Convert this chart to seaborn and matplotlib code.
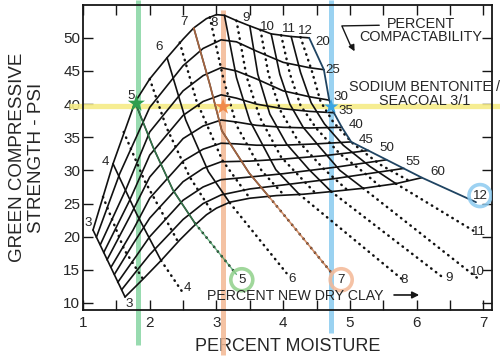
import matplotlib
matplotlib.use("Agg")
import matplotlib.pyplot as plt
from matplotlib.ticker import MultipleLocator
import numpy as np
import pandas as pd
import seaborn as sns

# ---------------- data ----------------
# compactability curves (top envelope = 20 ... bottom boundary)
comp_x = [
    [1.15, 1.45, 1.78, 2.0, 2.26, 2.5, 2.66, 2.85, 3.0, 3.12, 3.3, 3.5, 3.82, 4.12, 4.39],
    [1.20, 1.55, 2.0, 2.5, 2.8, 3.07, 3.3, 3.6, 4.0, 4.39, 4.61],
    [1.26, 1.65, 2.0, 2.5, 2.8, 3.07, 3.3, 3.6, 4.0, 4.4, 4.69],
    [1.31, 1.7, 2.0, 2.5, 2.8, 3.07, 3.3, 3.6, 4.0, 4.4, 4.76],
    [1.36, 1.7, 2.0, 2.5, 2.8, 3.07, 3.3, 3.6, 4.0, 4.4, 4.88],
    [1.42, 1.75, 2.0, 2.5, 2.8, 3.07, 3.3, 3.6, 4.0, 4.5, 5.02],
    [1.47, 1.75, 2.0, 2.5, 2.8, 3.07, 3.5, 4.0, 4.6, 5.28],
    [1.52, 1.8, 2.0, 2.5, 2.8, 3.07, 3.5, 4.0, 4.8, 5.55],
    [1.58, 1.8, 2.0, 2.5, 2.8, 3.07, 3.5, 4.0, 4.8, 5.81],
    [1.63, 1.9, 2.17, 2.45, 2.65, 2.85, 3.0, 3.2, 3.5, 3.9, 4.3, 4.72, 5.2, 5.69, 6.08],
]
comp_y = [
    [21.0, 31.0, 40.3, 43.8, 47.0, 49.8, 51.5, 52.9, 53.5, 53.4, 52.6, 51.8, 50.6, 50.2, 50.0],
    [19.9, 29.5, 39.5, 45.8, 48.4, 49.7, 49.4, 48.0, 46.3, 45.5, 45.2],
    [18.8, 27.3, 35.8, 42.0, 44.3, 45.5, 45.0, 43.8, 42.0, 41.1, 40.6],
    [17.6, 25.5, 32.3, 38.3, 40.4, 41.4, 40.9, 40.0, 39.3, 38.9, 38.7],
    [16.5, 23.0, 29.0, 34.8, 36.7, 37.6, 37.3, 36.8, 36.5, 36.4, 36.5],
    [15.4, 21.0, 25.8, 31.4, 33.2, 34.1, 34.0, 33.8, 33.8, 34.0, 34.3],
    [14.3, 18.9, 22.8, 28.3, 30.3, 31.3, 31.4, 31.7, 32.2, 33.0],
    [13.1, 17.1, 20.0, 25.5, 27.5, 28.6, 29.0, 29.5, 30.5, 31.6],
    [12.0, 14.8, 17.3, 22.6, 25.0, 26.3, 27.2, 27.8, 28.8, 30.3],
    [10.9, 13.6, 16.4, 19.5, 21.5, 23.3, 24.3, 25.2, 25.8, 26.2, 26.4, 26.8, 27.3, 28.0, 28.9],
]

# percent new dry clay lines, whole values 3..11 (solid inside the mesh)
clay_x = [
    [1.15, 1.63],
    [1.45, 1.8, 2.17],
    [1.78, 2.05, 2.35, 2.68],
    [2.26, 2.54, 2.88, 3.2],
    [2.66, 2.9, 3.08, 3.49, 3.79],
    [3.12, 3.3, 3.5, 3.89, 4.24],
    [3.5, 3.62, 3.8, 4.05, 4.39, 4.72],
    [3.82, 3.95, 4.1, 4.3, 4.55, 4.85, 5.2],
    [4.12, 4.26, 4.42, 4.62, 4.9, 5.3, 5.69],
]
clay_y = [
    [21.0, 10.9],
    [31.0, 23.5, 16.4],
    [40.3, 33.5, 27.0, 22.0],
    [47.0, 37.6, 29.8, 25.1],
    [51.5, 43.0, 36.0, 29.6, 26.0],
    [53.4, 44.0, 37.5, 30.1, 26.4],
    [51.8, 44.5, 38.5, 34.0, 30.1, 26.8],
    [50.6, 44.5, 40.0, 36.5, 33.5, 30.0, 27.3],
    [50.2, 44.8, 40.2, 37.0, 33.8, 30.6, 28.0],
]
# clay 12 = right envelope (runs on to the circled 12)
clay12_x = [4.39, 4.61, 4.69, 4.76, 4.88, 5.02, 5.55, 6.08, 6.89]
clay12_y = [50.0, 45.2, 40.6, 38.7, 36.5, 34.3, 31.6, 28.9, 25.2]

# half values 3.5 .. 11.5 (dotted inside the mesh)
half_x = [
    [1.30, 1.62, 1.90],
    [1.61, 1.92, 2.42],
    [2.0, 2.25, 2.6, 2.93],
    [2.45, 2.7, 3.09, 3.5],
    [2.9, 3.1, 3.3, 3.68, 4.01],
    [3.3, 3.45, 3.65, 3.97, 4.48],
    [3.66, 3.78, 3.96, 4.22, 4.6, 4.96],
    [3.97, 4.1, 4.26, 4.5, 4.85, 5.22, 5.45],
    [4.26, 4.43, 4.56, 4.75, 5.05, 5.45, 5.89],
]
half_y = [
    [26.0, 18.0, 13.6],
    [35.8, 28.5, 19.3],
    [43.8, 36.5, 29.0, 23.8],
    [49.3, 40.5, 31.5, 25.8],
    [53.1, 44.0, 36.8, 29.9, 26.3],
    [52.6, 44.2, 38.0, 32.0, 26.6],
    [51.2, 44.5, 39.0, 34.5, 30.3, 27.05],
    [50.4, 44.6, 39.8, 36.3, 32.5, 29.6, 27.6],
    [50.1, 45.0, 40.4, 37.3, 34.0, 30.9, 28.4],
]

# dotted extensions of clay 4..11 below the mesh
ext_x = [[2.17, 2.52], [2.68, 3.3], [3.2, 4.05], [3.79, 4.72],
         [4.24, 5.78], [4.72, 6.4], [5.2, 6.93], [5.69, 6.85]]
ext_y = [[16.4, 11.2], [22.0, 14.3], [25.1, 14.5], [26.0, 14.6],
         [26.4, 13.6], [26.8, 13.8], [27.3, 13.6], [28.0, 20.9]]

# labels
clay_top_labels = ["3", "4", "5", "6", "7", "8", "9", "10", "11", "12"]
clay_top_lx = [1.08, 1.34, 1.72, 2.14, 2.51, 2.96, 3.45, 3.77, 4.09, 4.33]
clay_top_ly = [22.1, 31.3, 41.2, 48.6, 52.4, 52.3, 53.0, 51.7, 51.3, 51.0]
clay_bot_labels = ["3", "4", "5", "6", "7", "8", "9", "10", "11", "12"]
clay_bot_lx = [1.70, 2.57, 3.38, 4.13, 4.87, 5.82, 6.48, 6.91, 6.94, 6.95]
clay_bot_ly = [9.9, 12.2, 13.5, 13.6, 13.5, 13.5, 13.7, 14.7, 20.7, 26.2]
comp_labels = ["20", "25", "30", "35", "40", "45", "50", "55", "60"]
comp_lx = [4.60, 4.74, 4.86, 4.94, 5.09, 5.24, 5.56, 5.95, 6.32]
comp_ly = [49.4, 45.2, 41.1, 39.0, 36.9, 34.6, 33.4, 31.3, 29.8]

# highlighted reading
moisture_marks = [1.82, 3.10, 4.72]
strength_mark = 39.7
star_x = [1.80, 3.10, 4.72]
star_y = [40.1, 39.6, 39.6]
ring_x = [3.38, 4.87, 6.95]
ring_y = [13.5, 13.5, 26.2]


def to_long(xs, ys, tag):
    rows = []
    for i, (lx, ly) in enumerate(zip(xs, ys)):
        for j, (a, b) in enumerate(zip(lx, ly)):
            rows.append({"line": f"{tag}{i}", "order": j, "x": a, "y": b})
    return pd.DataFrame(rows)


sns.set_theme(style="ticks")
plt.rcParams["font.family"] = ["Liberation Sans", "DejaVu Sans"]

fig = plt.figure(figsize=(5.0, 3.6), dpi=100)
ax = fig.add_axes([0.166, 0.139, 0.818, 0.847])
ax.set_xlim(1.0, 7.13)
ax.set_ylim(8.94, 54.95)

# coloured reading bands (behind the mesh)
band_green, band_orange, band_blue = "#86d5a2", "#f3b893", "#8fcdf0"
ax.plot([0.79, 7.4], [strength_mark, strength_mark], color="#f6ec86", lw=3.8,
        alpha=0.9, solid_capstyle="butt", clip_on=False, zorder=1)
ax.plot([moisture_marks[0]] * 2, [3.6, 55.7], color=band_green, lw=3.6,
        alpha=0.85, solid_capstyle="butt", clip_on=False, zorder=1.1)
ax.plot([moisture_marks[1]] * 2, [2.2, 54.2], color=band_orange, lw=3.6,
        alpha=0.85, solid_capstyle="butt", clip_on=False, zorder=1.1)
ax.plot([moisture_marks[2]] * 2, [5.4, 55.7], color=band_blue, lw=3.6,
        alpha=0.9, solid_capstyle="butt", clip_on=False, zorder=1.1)

solid_df = pd.concat([to_long(comp_x, comp_y, "c"), to_long(clay_x, clay_y, "k")])
dot_df = pd.concat([to_long(half_x, half_y, "h"), to_long(ext_x, ext_y, "e")])

sns.lineplot(data=solid_df, x="x", y="y", units="line", estimator=None,
             sort=False, color="#111111", lw=1.2, ax=ax, legend=False, zorder=3)
sns.lineplot(data=dot_df, x="x", y="y", units="line", estimator=None,
             sort=False, color="#111111", lw=1.8, ax=ax, legend=False,
             linestyle=(0, (0.2, 2.2)), dash_capstyle="round", zorder=3)
sns.lineplot(x=clay12_x, y=clay12_y, sort=False, color="#1f4462", lw=1.3,
             ax=ax, zorder=3)

# tinted reading lines along clay 5 and clay 7
ax.plot(clay_x[2] + ext_x[1][1:], clay_y[2] + ext_y[1][1:], color="#3c9a5c",
        lw=1.0, alpha=0.75, zorder=3.5)
ax.plot(clay_x[4] + ext_x[3][1:], clay_y[4] + ext_y[3][1:], color="#c9784a",
        lw=1.2, alpha=0.8, zorder=3.5)

# stars and rings
ax.scatter(star_x, star_y, marker="*", s=[170, 150, 120],
           c=["#2f9e4e", "#f08a4a", "#3aa4e2"], zorder=6, linewidths=0)
ax.scatter(ring_x, ring_y, marker="o", s=250, facecolors="none",
           edgecolors=["#8fd08a", "#f4b896", "#8ccaf0"], linewidths=2.6,
           alpha=0.85, zorder=4)

fs = 9.6
for t, x, y in zip(clay_top_labels, clay_top_lx, clay_top_ly):
    ax.text(x, y, t, fontsize=fs, ha="center", va="center", zorder=5)
for t, x, y in zip(clay_bot_labels, clay_bot_lx, clay_bot_ly):
    ax.text(x, y, t, fontsize=fs, ha="center", va="center", zorder=5)
for t, x, y in zip(comp_labels, comp_lx, comp_ly):
    ax.text(x, y, t, fontsize=fs, ha="center", va="center", zorder=5)

ax.text(6.06, 51.1, "PERCENT\nCOMPACTABILITY", fontsize=10.4, ha="center",
        va="center", linespacing=0.95, zorder=5)
ax.plot([5.44, 4.88, 5.02], [51.9, 51.8, 48.6], color="#161616", lw=1.0, zorder=5)
ax.annotate("", xy=(5.09, 47.6), xytext=(5.0, 49.3),
            arrowprops=dict(arrowstyle="-|>", color="#161616", lw=1.0,
                            mutation_scale=9), zorder=5)
ax.text(6.12, 41.5, "SODIUM BENTONITE /\nSEACOAL 3/1", fontsize=10.4,
        ha="center", va="center", linespacing=0.95, zorder=5, clip_on=False)
ax.text(2.86, 11.1, "PERCENT NEW DRY CLAY", fontsize=10.2, ha="left",
        va="center", zorder=5)
ax.annotate("", xy=(6.08, 11.2), xytext=(5.62, 11.2),
            arrowprops=dict(arrowstyle="-|>", color="#161616", lw=1.2,
                            mutation_scale=10), zorder=5)

# axes styling
ax.set_xticks(range(1, 8))
ax.xaxis.set_minor_locator(MultipleLocator(0.5))
ax.set_yticks(range(10, 55, 5))
ax.tick_params(which="both", direction="in", top=True, right=True,
               length=7, width=1.0, labelsize=11, color="#161616", pad=4)
ax.tick_params(axis="y", pad=2)
for sp in ax.spines.values():
    sp.set_linewidth(1.3)
    sp.set_color("#161616")
ax.set_xlabel("PERCENT MOISTURE", fontsize=13, labelpad=6)
ax.set_ylabel("GREEN COMPRESSIVE\nSTRENGTH - PSI", fontsize=13.5,
              linespacing=1.15)
ax.yaxis.set_label_coords(-0.092, 0.5)
ax.grid(False)

fig.savefig("out.png", dpi=100)
